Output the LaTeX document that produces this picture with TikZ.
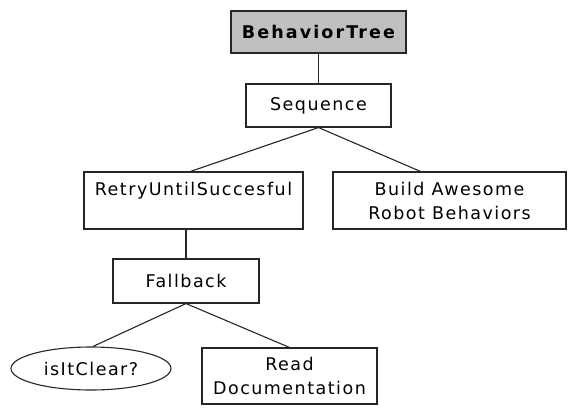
\documentclass[tikz,border=0pt]{standalone}
\usepackage{fontspec}
\setmainfont[LetterSpace=8.5]{DejaVu Sans}
\newfontfamily\btfont[LetterSpace=12]{DejaVu Sans Bold}
\usetikzlibrary{shapes.geometric}
\definecolor{btgray}{HTML}{C0C0C0}
\begin{document}
\begin{tikzpicture}[x=1pt,y=-1pt,
  box/.style={draw=black!85,line width=1.1pt,rectangle,inner sep=0pt,align=center,font=\fontsize{17.5}{24}\selectfont},
  oval/.style={draw=black!85,line width=1.1pt,ellipse,inner sep=0pt,font=\fontsize{17.5}{24}\selectfont},
  link/.style={draw=black!85,line width=1.1pt}]
\useasboundingbox (0,0) rectangle (574,410);
\node[box,fill=btgray,minimum width=175pt,minimum height=42pt,font=\fontsize{17.5}{24}\btfont] (bt) at (318.5,32) {BehaviorTree};
\node[box,minimum width=145pt,minimum height=43pt] (seq) at (318.5,105.5) {Sequence};
\node[box,minimum width=219pt,minimum height=57pt] (retry) at (193.5,200.5) {RetryUntilSuccesful\\\mbox{}};
\node[box,minimum width=233pt,minimum height=57pt] (build) at (449.5,200.5) {Build Awesome\\Robot Behaviors};
\node[box,minimum width=146pt,minimum height=44pt] (fb) at (186,281) {Fallback};
\node[oval,minimum width=160pt,minimum height=43pt] (clear) at (91,368.5) {isItClear?};
\node[box,minimum width=175pt,minimum height=56pt] (read) at (289.5,376) {Read\\Documentation};
\draw[link] (bt.south) -- (seq.north);
\draw[link] (seq.south) -- ([xshift=-3pt]retry.north);
\draw[link] (seq.south) -- ([xshift=-29pt]build.north);
\draw[link] (fb.north |- retry.south) -- (fb.north);
\draw[link] (fb.south) -- ([xshift=2pt]clear.north);
\draw[link] (fb.south) -- (read.north);
\end{tikzpicture}
\end{document}
